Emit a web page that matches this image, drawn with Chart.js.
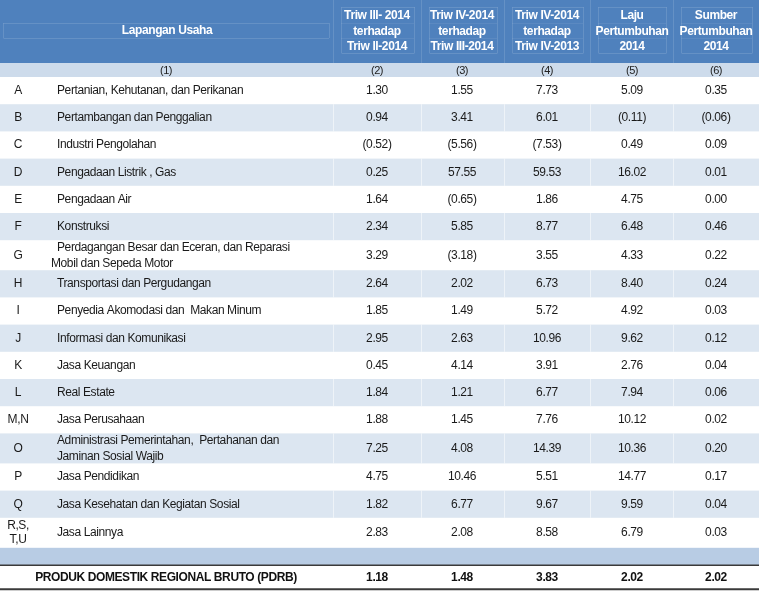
<!DOCTYPE html>
<html>
<head>
<meta charset="utf-8">
<script src="https://cdn.jsdelivr.net/npm/chart.js"></script>
<style>
  html, body { margin: 0; padding: 0; background: #ffffff; }
  #wrap { position: relative; width: 759px; height: 591px; }
</style>
</head>
<body>
<div id="wrap"><canvas id="myChart"></canvas></div>
<script>
// --- table data ---
const codes = ["A", "B", "C", "D", "E", "F", "G", "H", "I", "J", "K", "L", "M,N", "O", "P", "Q", "R,S,|T,U"];
const sectors = [
  "Pertanian, Kehutanan, dan Perikanan",
  "Pertambangan dan Penggalian",
  "Industri Pengolahan",
  "Pengadaan Listrik , Gas",
  "Pengadaan Air",
  "Konstruksi",
  "Perdagangan Besar dan Eceran, dan Reparasi|Mobil dan Sepeda Motor",
  "Transportasi dan Pergudangan",
  "Penyedia Akomodasi dan  Makan Minum",
  "Informasi dan Komunikasi",
  "Jasa Keuangan",
  "Real Estate",
  "Jasa Perusahaan",
  "Administrasi Pemerintahan,  Pertahanan dan|Jaminan Sosial Wajib",
  "Jasa Pendidikan",
  "Jasa Kesehatan dan Kegiatan Sosial",
  "Jasa Lainnya",
];
const triwIIIvsII = [1.30, 0.94, -0.52, 0.25, 1.64, 2.34, 3.29, 2.64, 1.85, 2.95, 0.45, 1.84, 1.88, 7.25, 4.75, 1.82, 2.83];
const triwIVvsIII = [1.55, 3.41, -5.56, 57.55, -0.65, 5.85, -3.18, 2.02, 1.49, 2.63, 4.14, 1.21, 1.45, 4.08, 10.46, 6.77, 2.08];
const triwIVvsIV2013 = [7.73, 6.01, -7.53, 59.53, 1.86, 8.77, 3.55, 6.73, 5.72, 10.96, 3.91, 6.77, 7.76, 14.39, 5.51, 9.67, 8.58];
const laju2014 = [5.09, -0.11, 0.49, 16.02, 4.75, 6.48, 4.33, 8.40, 4.92, 9.62, 2.76, 7.94, 10.12, 10.36, 14.77, 9.59, 6.79];
const sumber2014 = [0.35, -0.06, 0.09, 0.01, 0.00, 0.46, 0.22, 0.24, 0.03, 0.12, 0.04, 0.06, 0.02, 0.20, 0.17, 0.04, 0.03];
const pdrbTotal = [1.18, 1.48, 3.83, 2.02, 2.02];
const pdrbLabel = "PRODUK DOMESTIK REGIONAL BRUTO (PDRB)";
const headerFirst = "Lapangan Usaha";
const headers = [
  "Triw III- 2014|terhadap|Triw II-2014",
  "Triw IV-2014|terhadap|Triw III-2014",
  "Triw IV-2014|terhadap|Triw IV-2013",
  "Laju|Pertumbuhan|2014",
  "Sumber|Pertumbuhan|2014",
];
const columnNumbers = ["(1)", "(2)", "(3)", "(4)", "(5)", "(6)"];

// --- layout (table units map 1:1 onto the hidden linear scales) ---
const colEdges = [0, 333, 421, 504, 590, 673, 759];
const codeX = 18;
const labelX = 57;
const headerBottom = 63;
const numRowBottom = 77;
const singleRowH = 27.2;
const doubleRowH = 30;
const spacerH = 17.5;
const totalH = 24;

const FONT = "'Liberation Sans', Arial, sans-serif";
const HEADER_BLUE = "#4f81bd";
const STRIPE = "#dce6f1";
const NUM_ROW = "#cddbeb";
const SPACER = "#b8cce4";

function fmt(v) {
  const s = Math.abs(v).toFixed(2);
  return v < 0 ? "(" + s + ")" : s;
}

const tablePlugin = {
  id: "tablePlugin",
  beforeDatasetsDraw(chart) {
    const ctx = chart.ctx;
    const xs = chart.scales.x;
    const ys = chart.scales.y;
    const px = (v) => Math.round(xs.getPixelForValue(v));
    const py = (v) => ys.getPixelForValue(v);
    const W = colEdges[colEdges.length - 1];

    ctx.save();
    ctx.letterSpacing = "-0.4px";
    ctx.textBaseline = "middle";

    // header block
    ctx.fillStyle = HEADER_BLUE;
    ctx.fillRect(px(0), py(0), px(W) - px(0), py(headerBottom) - py(0));
    ctx.lineWidth = 1;
    // column boundaries, full header height
    ctx.strokeStyle = "rgba(255,255,255,0.13)";
    ctx.beginPath();
    for (let c = 1; c < colEdges.length - 1; c++) {
      ctx.moveTo(px(colEdges[c]) + 0.5, py(0));
      ctx.lineTo(px(colEdges[c]) + 0.5, py(headerBottom));
    }
    // first column: thin box round the title
    ctx.moveTo(px(3) + 0.5, Math.round(py(23)) + 0.5); ctx.lineTo(px(329), Math.round(py(23)) + 0.5);
    ctx.moveTo(px(3) + 0.5, Math.round(py(38)) + 0.5); ctx.lineTo(px(329), Math.round(py(38)) + 0.5);
    ctx.moveTo(px(3) + 0.5, py(23)); ctx.lineTo(px(3) + 0.5, py(38));
    ctx.moveTo(px(329) + 0.5, py(23)); ctx.lineTo(px(329) + 0.5, py(38));
    // value columns: box round the three title lines
    for (let c = 1; c < colEdges.length - 1; c++) {
      const l = px(colEdges[c] + 8) + 0.5;
      const r = px(colEdges[c + 1] - 7) + 0.5;
      [7, 53].forEach((yy) => {
        ctx.moveTo(l, Math.round(py(yy)) + 0.5); ctx.lineTo(r, Math.round(py(yy)) + 0.5);
      });
      ctx.moveTo(l, py(7)); ctx.lineTo(l, py(53));
      ctx.moveTo(r, py(7)); ctx.lineTo(r, py(53));
    }
    ctx.stroke();
    ctx.strokeStyle = "rgba(255,255,255,0.07)";
    ctx.beginPath();
    for (let c = 1; c < colEdges.length - 1; c++) {
      [23, 38].forEach((yy) => {
        ctx.moveTo(px(colEdges[c] + 8), Math.round(py(yy)) + 0.5);
        ctx.lineTo(px(colEdges[c + 1] - 7), Math.round(py(yy)) + 0.5);
      });
    }
    ctx.stroke();

    ctx.fillStyle = "#ffffff";
    ctx.font = "bold 12px " + FONT;
    ctx.textAlign = "center";
    ctx.fillText(headerFirst, px((colEdges[0] + colEdges[1]) / 2), py(31));
    headers.forEach((h, i) => {
      const cx = px((colEdges[i + 1] + colEdges[i + 2]) / 2);
      h.split("|").forEach((line, k) => {
        ctx.fillText(line, cx, py(15.5 + k * 15.8));
      });
    });

    // column number row
    ctx.fillStyle = NUM_ROW;
    ctx.fillRect(px(0), py(headerBottom), px(W) - px(0), py(numRowBottom) - py(headerBottom));
    ctx.fillStyle = "#222222";
    ctx.font = "11px " + FONT;
    columnNumbers.forEach((t, i) => {
      const cx = i === 0 ? px(166) : px((colEdges[i] + colEdges[i + 1]) / 2);
      ctx.fillText(t, cx, py(70.5));
    });

    // body rows
    const valueCols = [triwIIIvsII, triwIVvsIII, triwIVvsIV2013, laju2014, sumber2014];
    let top = numRowBottom;
    sectors.forEach((label, r) => {
      const lines = label.split("|");
      const h = lines.length > 1 || codes[r].includes("|") ? doubleRowH : singleRowH;
      const mid = top + h / 2;
      if (r % 2 === 1) {
        ctx.fillStyle = STRIPE;
        ctx.fillRect(px(0), py(top), px(W) - px(0), py(top + h) - py(top));
        ctx.strokeStyle = "rgba(255,255,255,0.5)";
        ctx.beginPath();
        for (let c = 1; c < colEdges.length - 1; c++) {
          ctx.moveTo(px(colEdges[c]) + 0.5, py(top));
          ctx.lineTo(px(colEdges[c]) + 0.5, py(top + h));
        }
        ctx.stroke();
      }
      ctx.fillStyle = "#1a1a1a";
      ctx.font = "12px " + FONT;
      ctx.textAlign = "center";
      const cl = codes[r].split("|");
      cl.forEach((t, k) => {
        ctx.fillText(t, px(codeX), py(mid + (k - (cl.length - 1) / 2) * 13.5));
      });
      ctx.textAlign = "left";
      lines.forEach((t, k) => {
        const off = lines.length > 1 ? (k === 0 ? -8 : 8) : 0;
        const lx = lines.length > 1 && k === 1 && r === 6 ? labelX - 6 : labelX;
        ctx.fillText(t, px(lx), py(mid + off));
      });
      ctx.textAlign = "center";
      valueCols.forEach((arr, c) => {
        ctx.fillText(fmt(arr[r]), px((colEdges[c + 1] + colEdges[c + 2]) / 2), py(mid));
      });
      top += h;
    });

    // spacer row
    ctx.fillStyle = SPACER;
    ctx.fillRect(px(0), py(top), px(W) - px(0), py(top + spacerH) - py(top));
    top += spacerH;

    // total row
    ctx.strokeStyle = "#3a3a3a";
    ctx.lineWidth = 1.5;
    ctx.beginPath();
    ctx.moveTo(px(0), py(top)); ctx.lineTo(px(W), py(top));
    ctx.stroke();
    const tmid = top + totalH / 2 + 0.5;
    ctx.fillStyle = "#111111";
    ctx.font = "bold 12px " + FONT;
    ctx.textAlign = "center";
    ctx.fillText(pdrbLabel, px(166), py(tmid));
    pdrbTotal.forEach((v, c) => {
      ctx.fillText(fmt(v), px((colEdges[c + 1] + colEdges[c + 2]) / 2), py(tmid));
    });
    ctx.lineWidth = 2;
    ctx.beginPath();
    ctx.moveTo(px(0), py(top + totalH)); ctx.lineTo(px(W), py(top + totalH));
    ctx.stroke();

    ctx.restore();
  },
};

const ctx = document.getElementById("myChart").getContext("2d");
new Chart(ctx, {
  type: "scatter",
  data: { datasets: [{ data: [], pointRadius: 0 }] },
  options: {
    responsive: true,
    maintainAspectRatio: false,
    animation: false,
    layout: { padding: 0 },
    plugins: { legend: { display: false }, tooltip: { enabled: false } },
    scales: {
      x: { type: "linear", min: 0, max: 759, display: false },
      y: { type: "linear", min: 0, max: 591, reverse: true, display: false },
    },
  },
  plugins: [tablePlugin],
});
</script>
</body>
</html>
